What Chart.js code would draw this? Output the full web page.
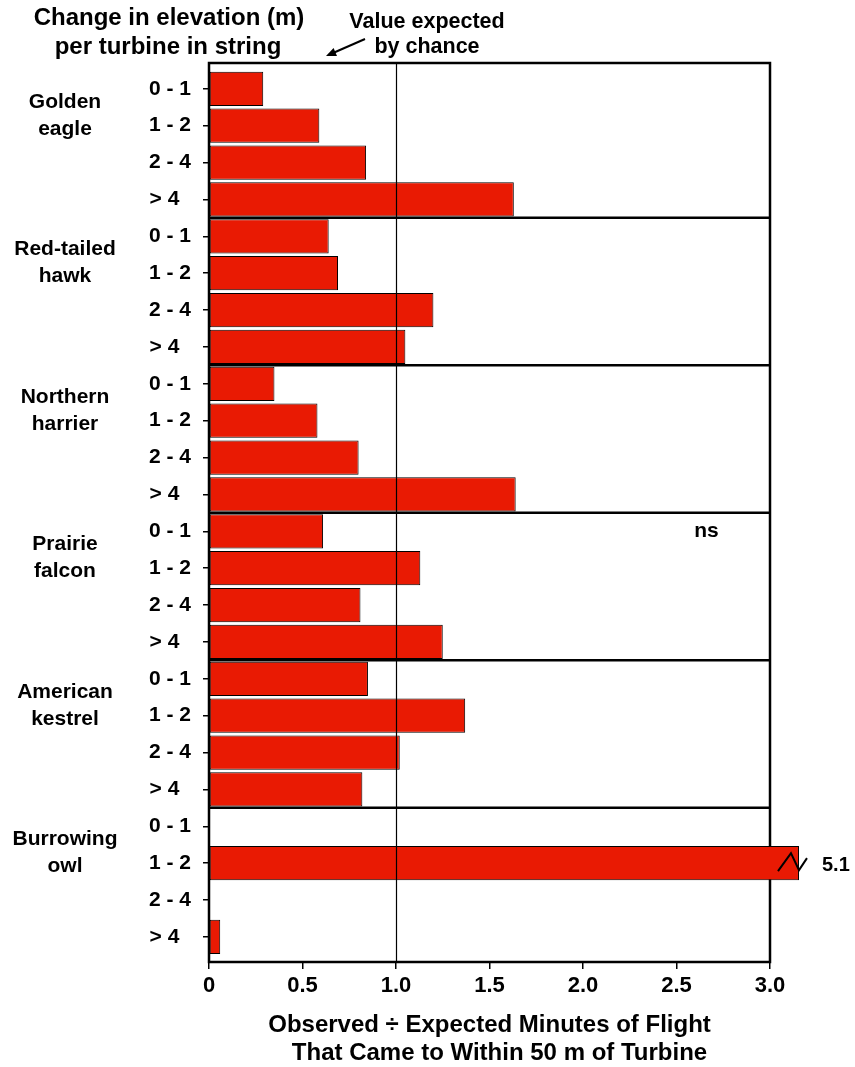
<!DOCTYPE html>
<html>
<head>
<meta charset="utf-8">
<script src="https://cdn.jsdelivr.net/npm/chart.js@4/dist/chart.umd.min.js"></script>
<style>
  body { margin: 0; background: #fff; }
</style>
</head>
<body>
<canvas id="chart" width="855" height="1067"></canvas>
<script>
// --- data ---
const bins = ['0 - 1', '1 - 2', '2 - 4', '> 4  '];
const species = [['Golden', 'eagle'], ['Red-tailed', 'hawk'], ['Northern', 'harrier'],
                 ['Prairie', 'falcon'], ['American', 'kestrel'], ['Burrowing', 'owl']];
const goldenEagle = [0.29, 0.59, 0.84, 1.63];
const redTailedHawk = [0.64, 0.69, 1.20, 1.05];
const northernHarrier = [0.35, 0.58, 0.80, 1.64];
const prairieFalcon = [0.61, 1.13, 0.81, 1.25];
const americanKestrel = [0.85, 1.37, 1.02, 0.82];
const burrowingOwl = [0, 5.1, 0, 0.06];
const xTicks = [0, 0.5, 1.0, 1.5, 2.0, 2.5, 3.0];
const chanceValue = 1.0;     // value expected by chance
const breakValue = 3.155;    // off-scale bars are cut here
const nsNote = { row: 12, x: 2.66, text: 'ns' };

const allValues = [].concat(goldenEagle, redTailedHawk, northernHarrier,
                            prairieFalcon, americanKestrel, burrowingOwl);
const rowLabels = species.flatMap(() => bins);
const plotted = allValues.map((v, i) => ({ x: Math.min(v, breakValue), y: i }));

const FONT = '"Liberation Sans", Arial, sans-serif';
const barColor = '#E91A03';

// frame, separators, reference line and free text
const decor = {
    id: 'decor',
    beforeDatasetsDraw(chart) {
        const c = chart.ctx, a = chart.chartArea, y = chart.scales.y;
        c.save();
        c.strokeStyle = '#000';
        c.lineWidth = 2.5;
        c.strokeRect(a.left, a.top, a.right - a.left, a.bottom - a.top);
        for (let g = 1; g < species.length; g++) {
            const yy = (y.getPixelForValue(g * 4 - 1) + y.getPixelForValue(g * 4)) / 2;
            c.beginPath();
            c.moveTo(a.left, yy);
            c.lineTo(a.right, yy);
            c.stroke();
        }
        c.restore();
    },
    afterDatasetsDraw(chart) {
        const c = chart.ctx, a = chart.chartArea, x = chart.scales.x, y = chart.scales.y;
        c.save();
        // line at the value expected by chance
        const xc = Math.round(x.getPixelForValue(chanceValue)) + 0.5;
        c.strokeStyle = '#000';
        c.lineWidth = 1.2;
        c.beginPath();
        c.moveTo(xc, a.top);
        c.lineTo(xc, a.bottom);
        c.stroke();

        // broken bars
        c.fillStyle = '#000';
        c.font = 'bold 20px ' + FONT;
        c.textBaseline = 'middle';
        c.textAlign = 'left';
        allValues.forEach((v, i) => {
            if (v <= breakValue) return;
            const bx = x.getPixelForValue(breakValue);
            const by = y.getPixelForValue(i);
            c.lineWidth = 2;
            c.beginPath();
            c.moveTo(bx - 21, by + 8);
            c.lineTo(bx - 8, by - 10);
            c.lineTo(bx, by + 7);
            c.lineTo(bx + 8, by - 5);
            c.stroke();
            c.fillText(v.toFixed(1), bx + 23, by + 2);
        });

        // ns note
        c.font = 'bold 21px ' + FONT;
        c.textAlign = 'center';
        c.fillText(nsNote.text, x.getPixelForValue(nsNote.x), y.getPixelForValue(nsNote.row));
        c.restore();
    },
    afterDraw(chart) {
        const c = chart.ctx, y = chart.scales.y;
        c.save();
        c.fillStyle = '#000';
        c.textAlign = 'center';
        c.textBaseline = 'middle';

        // species names
        c.font = 'bold 21px ' + FONT;
        species.forEach((name, g) => {
            const y0 = y.getPixelForValue(g * 4);
            c.fillText(name[0], 65, y0 + 13);
            c.fillText(name[1], 65, y0 + 40);
        });

        // heading of the category axis
        c.font = 'bold 24px ' + FONT;
        c.fillText('Change in elevation (m)', 169, 18);
        c.fillText('per turbine in string', 168, 47);

        // reference line note and arrow
        c.font = 'bold 21.5px ' + FONT;
        c.fillText('Value expected', 427, 22);
        c.fillText('by chance', 427, 47);

        c.strokeStyle = '#000';
        c.lineWidth = 2;
        c.beginPath();
        c.moveTo(365, 39);
        c.lineTo(333, 53);
        c.stroke();
        const ang = Math.atan2(56 - 39, 326 - 365);
        c.beginPath();
        c.moveTo(326, 56);
        c.lineTo(326 - 11 * Math.cos(ang - 0.4), 56 - 11 * Math.sin(ang - 0.4));
        c.lineTo(326 - 11 * Math.cos(ang + 0.4), 56 - 11 * Math.sin(ang + 0.4));
        c.closePath();
        c.fill();
        c.restore();
    }
};

const ctx = document.getElementById('chart').getContext('2d');
new Chart(ctx, {
    type: 'bar',
    data: {
        datasets: [{
            data: plotted,
            backgroundColor: barColor,
            borderColor: '#000',
            borderWidth: 1,
            borderSkipped: false,
            barPercentage: 0.93,
            categoryPercentage: 1,
            clip: false
        }]
    },
    options: {
        indexAxis: 'y',
        responsive: false,
        animation: false,
        layout: { padding: { top: 63, right: 85, left: 0, bottom: 0 } },
        plugins: { legend: { display: false }, tooltip: { enabled: false } },
        scales: {
            x: {
                type: 'linear',
                min: 0,
                max: 3,
                afterBuildTicks: s => { s.ticks = xTicks.map(v => ({ value: v })); },
                afterFit: s => { s.height = 105; },
                grid: { drawOnChartArea: false, tickLength: 7, color: '#000', lineWidth: 1.5 },
                border: { display: false },
                ticks: {
                    color: '#000',
                    font: { family: FONT, size: 22, weight: 'bold' },
                    padding: 4,
                    maxRotation: 0,
                    callback: v => v === 0 ? '0' : v.toFixed(1)
                },
                title: {
                    display: true,
                    text: ['Observed \u00F7 Expected Minutes of Flight', '   That Came to Within 50 m of Turbine'],
                    color: '#000',
                    font: { family: FONT, size: 24, weight: 'bold', lineHeight: 1.167 },
                    padding: { top: 0, bottom: 0 }
                }
            },
            y: {
                type: 'linear',
                reverse: true,
                offset: false,
                min: -0.7,
                max: 23.68,
                afterBuildTicks: s => { s.ticks = rowLabels.map((_, i) => ({ value: i })); },
                afterFit: s => { s.width = 209; },
                grid: { offset: false, drawOnChartArea: false, tickLength: 6, color: '#000', lineWidth: 1.5 },
                border: { display: false },
                ticks: {
                    color: '#000',
                    font: { family: FONT, size: 21, weight: 'bold' },
                    padding: 12,
                    autoSkip: false,
                    callback: v => rowLabels[v]
                }
            }
        }
    },
    plugins: [decor]
});
</script>
</body>
</html>
